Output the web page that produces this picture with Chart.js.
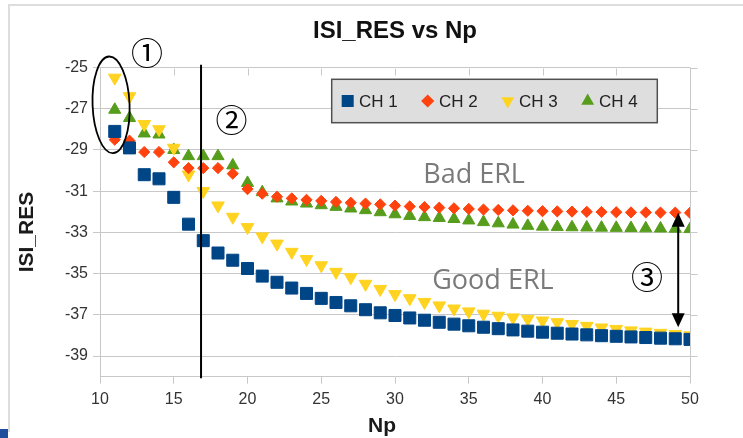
<!DOCTYPE html>
<html>
<head>
<meta charset="utf-8">
<script src="https://cdn.jsdelivr.net/npm/chart.js@4.4.1/dist/chart.umd.min.js"></script>
<style>
  html, body { margin: 0; padding: 0; background: #ffffff; }
  #wrap { position: relative; width: 743px; height: 438px; }
</style>
</head>
<body>
<div id="wrap"><canvas id="chart"></canvas></div>
<script>
// Np sweep and residual ISI per channel
const np = [11, 12, 13, 14, 15, 16, 17, 18, 19, 20,
            21, 22, 23, 24, 25, 26, 27, 28, 29, 30,
            31, 32, 33, 34, 35, 36, 37, 38, 39, 40,
            41, 42, 43, 44, 45, 46, 47, 48, 49, 50];

const ch1 = [-28.1, -28.9, -30.2, -30.4, -31.3, -32.6, -33.4, -34.0, -34.35, -34.75,
             -35.12, -35.42, -35.7, -35.96, -36.2, -36.4, -36.56, -36.75, -36.9, -37.03,
             -37.15, -37.26, -37.36, -37.45, -37.53, -37.6, -37.67, -37.73, -37.79, -37.84,
             -37.89, -37.93, -37.97, -38.01, -38.04, -38.07, -38.1, -38.13, -38.16, -38.19];

const ch2 = [-28.5, -28.55, -29.1, -29.1, -29.6, -29.88, -29.88, -29.88, -30.15, -30.9,
             -31.12, -31.27, -31.35, -31.42, -31.47, -31.52, -31.56, -31.6, -31.64, -31.7,
             -31.74, -31.77, -31.8, -31.83, -31.86, -31.89, -31.91, -31.93, -31.95, -31.97,
             -31.98, -31.99, -32.0, -32.01, -32.02, -32.03, -32.03, -32.04, -32.04, -32.05];

const ch3 = [-25.5, -26.4, -27.75, -28.0, -28.9, -30.2, -31.0, -31.7, -32.25, -32.75,
             -33.2, -33.55, -33.95, -34.3, -34.6, -34.92, -35.18, -35.5, -35.75, -36.0,
             -36.2, -36.38, -36.55, -36.7, -36.84, -36.95, -37.05, -37.13, -37.2, -37.28,
             -37.36, -37.45, -37.54, -37.62, -37.69, -37.76, -37.82, -37.88, -37.94, -38.0];

const ch4 = [-27.05, -27.45, -28.2, -28.25, -29.0, -29.3, -29.3, -29.3, -29.75, -30.6,
             -31.05, -31.35, -31.5, -31.6, -31.68, -31.76, -31.84, -31.92, -32.02, -32.12,
             -32.2, -32.26, -32.3, -32.35, -32.42, -32.5, -32.56, -32.62, -32.68, -32.72,
             -32.74, -32.75, -32.76, -32.77, -32.78, -32.79, -32.8, -32.81, -32.82, -32.84];

const seriesNames = ['CH 1', 'CH 2', 'CH 3', 'CH 4'];
const xTickValues = [10, 15, 20, 25, 30, 35, 40, 45, 50];
const yTickValues = [-25, -27, -29, -31, -33, -35, -37, -39];
const xAxisTitle = 'Np';
const yAxisTitle = 'ISI_RES';

// marker look for each channel
const styles = [
  { color: '#004586', pointStyle: 'rect',     radius: 8.5, rotation: 0 },
  { color: '#ff420e', pointStyle: 'rectRot',  radius: 5.6, rotation: 0 },
  { color: '#ffd320', pointStyle: 'triangle', radius: 7.3, rotation: 180 },
  { color: '#579d1c', pointStyle: 'triangle', radius: 7.0, rotation: 0 }
];

// hand-drawn call-outs, placed in data units
const notes = {
  divider: { x: 16.85, yTop: -24.87 },
  gapArrow: { x: 49.2, yFrom: -32.05, yTo: -37.6 },
  ring: { x: 10.75, y: -26.81, rx: 1.254, ry: 2.346, tilt: -0.04 },
  marks: [
    { text: '\u2460', x: 13.19, y: -24.27 },
    { text: '\u2461', x: 18.92, y: -27.54 },
    { text: '\u2462', x: 47.08, y: -35.18 }
  ],
  labels: [
    { text: 'Bad ERL',  x: 35.36, y: -30.6 },
    { text: 'Good ERL', x: 36.64, y: -35.76 }
  ]
};

const gridColor = '#c8c8c8';
const sans = "'Liberation Sans', Arial, sans-serif";
Chart.defaults.font.family = sans;

const seriesValues = [ch1, ch2, ch3, ch4];
const datasets = seriesValues.map((vals, i) => ({
  label: seriesNames[i],
  data: np.map((x, k) => ({ x: x, y: vals[k] })),
  showLine: false,
  pointStyle: styles[i].pointStyle,
  pointRadius: styles[i].radius,
  pointHoverRadius: styles[i].radius,
  pointRotation: styles[i].rotation,
  backgroundColor: styles[i].color,
  borderColor: styles[i].color,
  borderWidth: 1
}));

const decorations = {
  id: 'decorations',
  beforeDraw(chart) {
    const { ctx, width, height } = chart;
    ctx.save();
    ctx.fillStyle = '#ffffff';
    ctx.fillRect(0, 0, width, height);
    // page frame
    ctx.strokeStyle = '#dddddd';
    ctx.lineWidth = 2;
    ctx.beginPath();
    ctx.moveTo(9, height - 6);
    ctx.lineTo(9, 5);
    ctx.lineTo(width, 5);
    ctx.stroke();
    ctx.fillStyle = '#1d4f9c';
    ctx.fillRect(0, height - 9, 8, 9);
    ctx.restore();
  },
  beforeDatasetsDraw(chart) {
    // right border with outward ticks, short inward ticks along the top
    const { ctx, chartArea: ca, scales: { x, y } } = chart;
    const r = Math.round(ca.right) + 0.5;
    const t = Math.round(ca.top) + 0.5;
    ctx.save();
    ctx.strokeStyle = gridColor;
    ctx.lineWidth = 1;
    ctx.beginPath();
    ctx.moveTo(r, ca.top);
    ctx.lineTo(r, ca.bottom);
    y.ticks.forEach(tk => {
      const py = Math.round(y.getPixelForValue(tk.value)) + 0.5;
      ctx.moveTo(r, py);
      ctx.lineTo(r + 7, py);
    });
    x.ticks.forEach(tk => {
      const px = Math.round(x.getPixelForValue(tk.value)) + 0.5;
      ctx.moveTo(px, t);
      ctx.lineTo(px, t + 7);
    });
    ctx.stroke();

    // axis titles
    ctx.fillStyle = '#1a1a1a';
    ctx.font = 'bold 21px ' + sans;
    ctx.textAlign = 'center';
    ctx.textBaseline = 'middle';
    ctx.fillText(xAxisTitle, (ca.left + ca.right) / 2 - 13, x.bottom - 12);
    ctx.save();
    ctx.translate(y.left + 17.5, (ca.top + ca.bottom) / 2 + 10);
    ctx.rotate(-Math.PI / 2);
    ctx.fillText(yAxisTitle, 0, 0);
    ctx.restore();
    ctx.restore();
  },
  afterDatasetsDraw(chart) {
    const { ctx, chartArea: ca, scales: { x, y } } = chart;
    ctx.save();

    // legend panel
    const bx = ca.left + 231.7, by = ca.top + 11.8, bw = 325.6, bh = 43.4;
    ctx.fillStyle = '#dedede';
    ctx.fillRect(bx, by, bw, bh);
    ctx.strokeStyle = '#505050';
    ctx.lineWidth = 1.5;
    ctx.strokeRect(bx, by, bw, bh);
    const cy = by + bh / 2;
    ctx.font = '17px ' + sans;
    ctx.textBaseline = 'middle';
    ctx.textAlign = 'left';
    seriesNames.forEach((name, i) => {
      const mx = bx + 16 + 80 * i;
      const st = styles[i];
      ctx.fillStyle = st.color;
      ctx.strokeStyle = st.color;
      const lr = st.pointStyle === 'rect' ? 8.5 : (st.pointStyle === 'rectRot' ? 6.6 : 7.4);
      Chart.helpers.drawPoint(ctx, { pointStyle: st.pointStyle, rotation: st.rotation, radius: lr, borderWidth: 0 }, mx, cy);
      ctx.fillStyle = '#222222';
      ctx.fillText(name, bx + 27.3 + 80 * i, cy + 1);
    });

    // grey region labels
    ctx.fillStyle = '#7a7a7a';
    ctx.font = "27px 'Open Sans', 'Noto Sans', sans-serif";
    ctx.textAlign = 'center';
    ctx.textBaseline = 'alphabetic';
    notes.labels.forEach(l => {
      ctx.fillText(l.text, x.getPixelForValue(l.x), y.getPixelForValue(l.y));
    });

    // vertical divider
    ctx.strokeStyle = '#000000';
    ctx.lineWidth = 2;
    const dx = x.getPixelForValue(notes.divider.x);
    ctx.beginPath();
    ctx.moveTo(dx, y.getPixelForValue(notes.divider.yTop));
    ctx.lineTo(dx, ca.bottom + 1.5);
    ctx.stroke();

    // double-headed arrow
    const ax = x.getPixelForValue(notes.gapArrow.x);
    const ay1 = y.getPixelForValue(notes.gapArrow.yFrom);
    const ay2 = y.getPixelForValue(notes.gapArrow.yTo);
    const hl = 14, hw = 6.5;
    ctx.beginPath();
    ctx.moveTo(ax, ay1 + hl - 2);
    ctx.lineTo(ax, ay2 - hl + 2);
    ctx.stroke();
    ctx.fillStyle = '#000000';
    ctx.beginPath();
    ctx.moveTo(ax, ay1);
    ctx.lineTo(ax - hw, ay1 + hl);
    ctx.lineTo(ax + hw, ay1 + hl);
    ctx.closePath();
    ctx.fill();
    ctx.beginPath();
    ctx.moveTo(ax, ay2);
    ctx.lineTo(ax - hw, ay2 - hl);
    ctx.lineTo(ax + hw, ay2 - hl);
    ctx.closePath();
    ctx.fill();

    // ring around the Np = 11 points
    const rg = notes.ring;
    const rcx = x.getPixelForValue(rg.x), rcy = y.getPixelForValue(rg.y);
    const rrx = x.getPixelForValue(rg.x + rg.rx) - rcx;
    const rry = y.getPixelForValue(rg.y - rg.ry) - rcy;
    ctx.lineWidth = 1.8;
    ctx.beginPath();
    ctx.ellipse(rcx, rcy, rrx, rry, rg.tilt, 0, Math.PI * 2);
    ctx.stroke();

    // circled step numbers
    ctx.fillStyle = '#000000';
    ctx.font = "32px 'Noto Sans CJK JP', 'DejaVu Sans', sans-serif";
    ctx.textAlign = 'center';
    ctx.textBaseline = 'middle';
    notes.marks.forEach(m => {
      ctx.fillText(m.text, x.getPixelForValue(m.x), y.getPixelForValue(m.y));
    });

    ctx.restore();
  }
};

new Chart(document.getElementById('chart'), {
  type: 'scatter',
  data: { datasets: datasets },
  plugins: [decorations],
  options: {
    responsive: true,
    maintainAspectRatio: false,
    animation: false,
    events: [],
    layout: { padding: { left: 10, right: 53, top: 0, bottom: 0 } },
    plugins: {
      legend: { display: false },
      tooltip: { enabled: false },
      title: {
        display: true,
        text: 'ISI_RES vs Np',
        fullSize: false,
        color: '#111111',
        font: { family: sans, size: 24, weight: 'bold' },
        padding: { top: 17, bottom: 21.7 }
      }
    },
    scales: {
      x: {
        type: 'linear',
        min: 10,
        max: 50,
        afterBuildTicks: s => { s.ticks = xTickValues.map(v => ({ value: v })); },
        afterFit: s => { s.height = 61.3; },
        grid: { drawOnChartArea: false, drawTicks: true, tickLength: 7, color: gridColor },
        border: { display: true, color: gridColor },
        ticks: { color: '#333333', font: { size: 16 }, padding: 6, maxRotation: 0, autoSkip: false }
      },
      y: {
        type: 'linear',
        min: -40,
        max: -25,
        afterBuildTicks: s => { s.ticks = yTickValues.map(v => ({ value: v })); },
        afterFit: s => { s.width = 90; },
        grid: { color: gridColor, tickLength: 7 },
        border: { display: true, color: gridColor },
        ticks: { color: '#333333', font: { size: 16 }, padding: 5, callback: v => String(v) }
      }
    }
  }
});
</script>
</body>
</html>
